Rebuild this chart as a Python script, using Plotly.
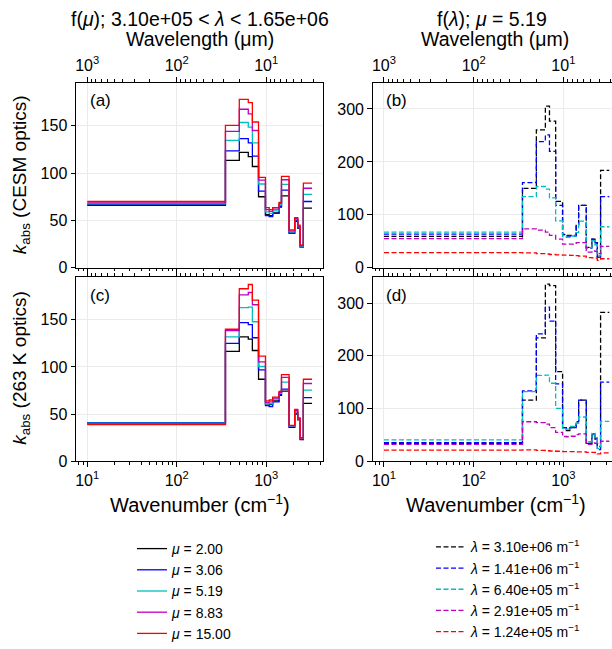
import plotly.graph_objects as go

W, H = 612, 649

# ---------------- data ----------------
# RRTMG longwave band edges (cm^-1)
band_edges = [10, 350, 500, 630, 700, 820, 980, 1080, 1180, 1390, 1480, 1800, 2080, 2250, 2390, 2600, 3250]

mu_labels = ["2.00", "3.06", "5.19", "8.83", "15.00"]
lam_labels = ["3.10e+06", "1.41e+06", "6.40e+05", "2.91e+05", "1.24e+05"]

# panel (a): CESM optics, f(mu)
cesm_mu_2p00 = [66, 113.5, 122, 117.5, 107, 75, 56, 55, 58, 64, 76, 36.5, 49, 42, 22, 63]
cesm_mu_3p06 = [67, 123.5, 136.5, 132, 118, 81, 55, 54, 57.5, 65, 82, 36.5, 50, 42.5, 22, 70]
cesm_mu_5p19 = [67.5, 134.5, 153.5, 148.5, 132, 88.5, 59, 57.5, 60, 66.5, 88, 38, 51, 43.5, 23, 77.5]
cesm_mu_8p83 = [68.5, 144, 167.5, 162.5, 145, 92.5, 61.5, 59.5, 62, 68, 93, 39, 52, 44, 23.5, 84]
cesm_mu_15p0 = [70, 150.5, 178, 174.5, 154, 95.5, 63.5, 61.5, 63.5, 69, 96.5, 40, 53, 45, 24, 89.5]

# panel (c): 263 K optics, f(mu)
k263_mu_2p00 = [40.5, 116.5, 132, 129.5, 117.5, 87, 61, 60, 64, 70, 74.5, 36, 50, 44, 23, 61.5]
k263_mu_3p06 = [41, 125, 147, 145, 131, 97, 59, 58, 63, 71, 76.5, 36.5, 51, 44.5, 23.5, 67.5]
k263_mu_5p19 = [40.5, 132, 163, 163.5, 148, 100.5, 61, 61, 66, 72, 84, 37, 53, 45, 24, 75.5]
k263_mu_8p83 = [39.5, 138.5, 176.5, 179, 166, 105.5, 62.5, 63, 67, 73, 89, 37.5, 54, 45.5, 24.5, 82.5]
k263_mu_15p0 = [39, 140, 183, 187.5, 171, 111.5, 64, 65, 68, 74, 92, 38, 55, 46, 25, 87]

# panel (b): CESM optics, f(lambda), mu = 5.19
cesm_lam_310e6 = [59.3, 150, 260.5, 305.5, 277, 125.5, 63, 61, 61, 80, 118, 38.5, 54, 47.5, 20, 184]
cesm_lam_141e6 = [63.6, 161, 238.5, 251, 220, 118, 62, 60, 60, 78, 118, 37, 54, 47, 20, 134.5]
cesm_lam_640e5 = [67.5, 134.5, 153.5, 148.5, 132, 88.5, 59, 57.5, 60, 66.5, 88, 38, 51, 43.5, 23, 77.5]
cesm_lam_291e5 = [55, 73.5, 71, 67.5, 61, 54, 44.5, 44.5, 44.5, 47.5, 47.5, 29.5, 32, 31, 26.5, 40.5]
cesm_lam_124e5 = [28.7, 28, 26.5, 26, 25, 24.5, 24, 24, 23.5, 23, 22, 19, 18.5, 18, 14, 17]

# panel (d): 263 K optics, f(lambda), mu = 5.19
k263_lam_310e6 = [34, 116, 234, 336, 333, 170, 64, 58, 64, 72, 116, 34, 50, 42, 28, 282.5]
k263_lam_141e6 = [35.5, 133.5, 241.5, 292.5, 266, 147, 64, 61, 64, 75, 116, 34, 52, 44, 22, 150]
k263_lam_640e5 = [40.5, 132, 163, 163.5, 148, 100.5, 61, 61, 66, 72, 84, 37, 53, 45, 24, 75.5]
k263_lam_291e5 = [32, 75, 73.5, 70.5, 64, 55, 47, 46.5, 47.5, 50.5, 52, 32, 35, 34, 34, 38]
k263_lam_124e5 = [21, 21.5, 20.5, 20, 19.5, 19, 18.5, 18.5, 18.5, 18, 18, 17, 17, 16.5, 14, 16]

x_major_vals = [10, 100, 1000]
x_major_text = ["10<sup>1</sup>", "10<sup>2</sup>", "10<sup>3</sup>"]
wl_major_text = ["10<sup>3</sup>", "10<sup>2</sup>", "10<sup>1</sup>"]
y_left_ticks = [0, 50, 100, 150]
y_right_ticks = [0, 100, 200, 300]

# ---------------- style ----------------
colors = ["#000000", "#0000ff", "#00bfbf", "#bf00bf", "#ff0000"]
FONT = "Liberation Sans, Arial, Helvetica, sans-serif"
LW = 1.3
DASH = "5px,2.5px"

def px(x):
    return x / W

def py(y):
    return 1 - y / H

LX = [px(76), px(323.3)]
RX = [px(372.7), 1.0]
TY = [py(276.7), py(85.3)]
BY = [py(476.7), py(286)]
XR_L = [0.8744, 3.6375]
XR_R = [0.8744, 0.8744 + (612 - 372.7) / 89.7]
YMAX_L = 195.7
YMAX_R = 350.0

minor_bottom = [m * 10 ** n for n in range(0, 4) for m in range(2, 10)]
minor_bottom = [v for v in minor_bottom if 7 < v < 4500]
minor_top = [10000.0 / (m * 10 ** n) for n in range(0, 4) for m in range(2, 10)]
minor_top = [v for v in minor_top if 7 < v < 4500]

fig = go.Figure()

def step_y(vals):
    return list(vals) + [vals[-1]]

panels = [
    ("x", "y", [cesm_mu_2p00, cesm_mu_3p06, cesm_mu_5p19, cesm_mu_8p83, cesm_mu_15p0], "solid", "legend", mu_labels, "mu"),
    ("x2", "y2", [cesm_lam_310e6, cesm_lam_141e6, cesm_lam_640e5, cesm_lam_291e5, cesm_lam_124e5], DASH, "legend2", lam_labels, "lam"),
    ("x3", "y3", [k263_mu_2p00, k263_mu_3p06, k263_mu_5p19, k263_mu_8p83, k263_mu_15p0], "solid", None, mu_labels, "mu"),
    ("x4", "y4", [k263_lam_310e6, k263_lam_141e6, k263_lam_640e5, k263_lam_291e5, k263_lam_124e5], DASH, None, lam_labels, "lam"),
]

for xa, ya, series, dash, leg, labels, kind in panels:
    for i, vals in enumerate(series):
        if kind == "mu":
            name = "<i>μ</i> = " + labels[i]
        else:
            name = "<i>λ</i> = " + labels[i] + " m<sup>−1</sup>"
        fig.add_trace(go.Scatter(
            x=band_edges, y=step_y(vals), mode="lines", line_shape="hv",
            line=dict(color=colors[i], width=LW, dash=dash),
            xaxis=xa, yaxis=ya, name=name,
            showlegend=leg is not None, legend=leg if leg else "legend",
            hoverinfo="skip",
        ))

# invisible traces so the secondary (wavelength) axes are drawn
for xa, ya in [("x5", "y"), ("x6", "y2"), ("x7", "y3"), ("x8", "y4")]:
    fig.add_trace(go.Scatter(x=[band_edges[0], band_edges[-1]], y=[None, None],
                             mode="lines", xaxis=xa, yaxis=ya, showlegend=False,
                             hoverinfo="skip"))

axis_common = dict(
    showline=True, linecolor="black", linewidth=1,
    ticks="outside", ticklen=4.5, tickwidth=1, tickcolor="black",
    zeroline=False, tickfont=dict(family=FONT, size=16, color="black"),
)

def bottom_x(domain, anchor, rng, labels):
    d = dict(axis_common)
    d.update(type="log", domain=domain, anchor=anchor, range=rng,
             tickmode="array", tickvals=x_major_vals, ticktext=x_major_text,
             showticklabels=labels, showgrid=True, gridcolor="#ebebeb", gridwidth=0.8,
             minor=dict(tickmode="array", tickvals=minor_bottom, ticks="outside",
                        ticklen=2.5, tickwidth=0.8, tickcolor="black", showgrid=False),
             mirror=False)
    return d

def top_x(over, anchor, rng, labels):
    d = dict(axis_common)
    d.update(type="log", overlaying=over, anchor=anchor, side="top", range=rng,
             tickmode="array", tickvals=x_major_vals, ticktext=wl_major_text,
             showticklabels=labels, showgrid=False,
             minor=dict(tickmode="array", tickvals=minor_top, ticks="outside",
                        ticklen=2.5, tickwidth=0.8, tickcolor="black", showgrid=False))
    return d

def y_ax(domain, anchor, ymax, tv, mirror):
    d = dict(axis_common)
    d.update(domain=domain, anchor=anchor, range=[0, ymax], tickmode="array",
             tickvals=tv, showgrid=True, gridcolor="#ebebeb", gridwidth=0.8,
             mirror=mirror)
    return d

fig.update_layout(
    xaxis=bottom_x(LX, "y", XR_L, False),
    xaxis2=bottom_x(RX, "y2", XR_R, False),
    xaxis3=bottom_x(LX, "y3", XR_L, True),
    xaxis4=bottom_x(RX, "y4", XR_R, True),
    xaxis5=top_x("x", "y", XR_L, True),
    xaxis6=top_x("x2", "y2", XR_R, True),
    xaxis7=top_x("x3", "y3", XR_L, False),
    xaxis8=top_x("x4", "y4", XR_R, False),
    yaxis=y_ax(TY, "x", YMAX_L, y_left_ticks, True),
    yaxis2=y_ax(TY, "x2", YMAX_R, y_right_ticks, False),
    yaxis3=y_ax(BY, "x3", YMAX_L, y_left_ticks, True),
    yaxis4=y_ax(BY, "x4", YMAX_R, y_right_ticks, False),
)

ann = []
def add_text(text, x, y, size, xanchor="center", angle=0):
    ann.append(dict(text=text, x=px(x), y=py(y), xref="paper", yref="paper",
                    showarrow=False, xanchor=xanchor, yanchor="middle",
                    textangle=angle, font=dict(family=FONT, size=size, color="black")))

add_text("f(<i>μ</i>); 3.10e+05 &lt; <i>λ</i> &lt; 1.65e+06", 200, 20, 19.5)
add_text("f(<i>λ</i>); <i>μ</i> = 5.19", 492, 20, 19.5)
add_text("Wavelength (μm)", 200, 40, 19.5)
add_text("Wavelength (μm)", 495, 40, 19.5)
add_text("Wavenumber (cm<sup>−1</sup>)", 200, 520, 20)
add_text("Wavenumber (cm<sup>−1</sup>)", 496, 520, 20)
add_text("<i>k</i><sub>abs</sub> (CESM optics)", 21, 181, 19, angle=-90)
add_text("<i>k</i><sub>abs</sub> (263 K optics)", 21, 381, 19, angle=-90)
add_text("(a)", 88, 104, 17, xanchor="left")
add_text("(b)", 384, 104, 17, xanchor="left")
add_text("(c)", 88, 305, 17, xanchor="left")
add_text("(d)", 384, 305, 17, xanchor="left")

fig.update_layout(
    width=W, height=H,
    margin=dict(l=0, r=0, t=0, b=0),
    paper_bgcolor="white", plot_bgcolor="white",
    font=dict(family=FONT, color="black"),
    annotations=ann,
    legend=dict(x=px(132), y=py(551), xanchor="left", yanchor="top",
                bgcolor="rgba(0,0,0,0)", itemwidth=30,
                font=dict(family=FONT, size=14, color="black"),
                tracegroupgap=0),
    legend2=dict(x=px(431), y=py(549), xanchor="left", yanchor="top",
                 bgcolor="rgba(0,0,0,0)", itemwidth=30,
                 font=dict(family=FONT, size=14, color="black"),
                 tracegroupgap=0),
    showlegend=True,
)

fig.write_html("out.html",
               config={"displayModeBar": False},
               post_script="document.body.style.margin='0';document.body.style.overflow='hidden';")
